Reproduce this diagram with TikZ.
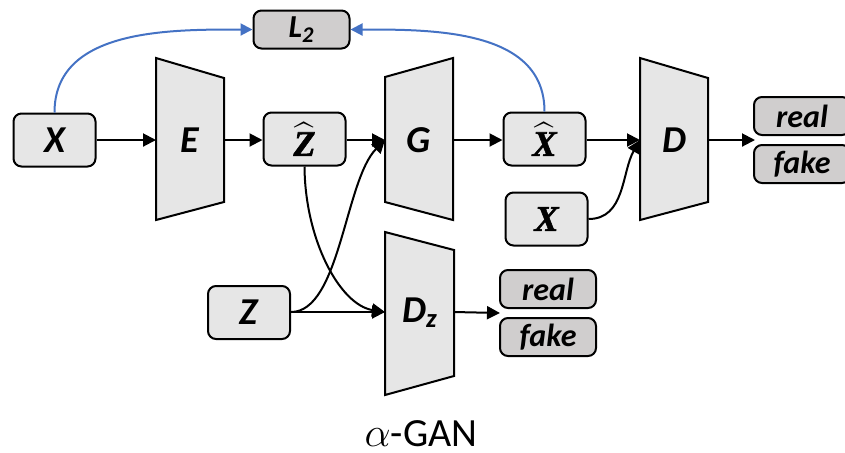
\documentclass[tikz,border=0pt]{standalone}
\usepackage{amsmath}
\usepackage{fontspec}
\setmainfont{Carlito}
\newfontfamily\serifbi{Liberation Serif Bold Italic}[FakeBold=1.5]
\usetikzlibrary{arrows.meta}

\definecolor{boxgray}{HTML}{E6E6E6}
\definecolor{outgray}{HTML}{D0CECE}
\definecolor{lossblue}{HTML}{4472C4}

% hatted symbol in bold serif italic
\newcommand{\hatsym}[1]{$\widehat{\text{#1}}$}

\tikzset{
	box/.style={draw, line width=1pt, rounded corners=4pt, fill=boxgray,
		minimum width=41pt, minimum height=26.5pt, inner sep=0pt,
		font=\fontsize{19}{19}\selectfont\bfseries\itshape},
	mathbox/.style={box, font=\fontsize{18}{18}\selectfont\serifbi\boldmath},
	outbox/.style={draw, line width=1pt, rounded corners=4pt, fill=outgray,
		minimum width=48pt, minimum height=19pt, inner sep=0pt,
		font=\fontsize{16}{16}\selectfont\bfseries\itshape},
	net/.style={draw, line width=1pt, fill=boxgray},
	netlabel/.style={font=\fontsize{19}{19}\selectfont\bfseries\itshape},
	flow/.style={line width=1pt, -{Triangle[length=6.5pt,width=6.5pt]}},
	loss/.style={line width=1pt, lossblue, -{Triangle[length=6pt,width=6pt]}}
}

\begin{document}
\begin{tikzpicture}[x=0.5pt, y=0.5pt]
	\useasboundingbox (0, 0) rectangle (845, -452);

	% networks
	\filldraw[net]	(156, -58) -- (224, -78) -- (224, -202) -- (156, -220) -- cycle;
	\filldraw[net]	(385, -77) -- (453, -58) -- (453, -220) -- (385, -202) -- cycle;
	\filldraw[net]	(640, -58) -- (708, -78) -- (708, -202) -- (640, -220) -- cycle;
	\filldraw[net]	(385, -232) -- (454, -250) -- (454, -376) -- (385, -395) -- cycle;

	\node[netlabel] (E) at (190, -140) {E};
	\node[netlabel] (G) at (419, -140) {G};
	\node[netlabel] (D) at (674, -140) {D};
	\node[netlabel] (Dz) at (420, -313) {D\textsubscript{z}};

	\coordinate (E-in) at (156, -140);
	\coordinate (E-out) at (224, -140);
	\coordinate (G-in) at (385, -140);
	\coordinate (G-out) at (453, -140);
	\coordinate (D-in) at (640, -140);
	\coordinate (D-out) at (708, -140);
	\coordinate (Dz-in) at (385, -312);
	\coordinate (Dz-out) at (454, -312);

	% data boxes
	\node[box] (X) at (54.5, -140) {X};
	\node[mathbox] (Zhat) at (304.5, -139) {\hatsym{Z}};
	\node[mathbox] (Xhat) at (544.5, -139) {\hatsym{X}};
	\node[mathbox] (Xreal) at (546.5, -219) {X};
	\node[box] (Z) at (249, -312.5) {Z};

	% outputs
	\node[outbox] (L2) at (301.5, -29.5) {L\textsubscript{2}};
	\node[outbox] (real) at (802, -116) {real};
	\node[outbox] (fake) at (802, -164) {fake};
	\node[outbox] (realz) at (548, -289) {real};
	\node[outbox] (fakez) at (548, -337) {fake};

	\coordinate (rf) at (755, -140);
	\coordinate (rfz) at (500, -313);

	% connectors
	\draw[flow]	(X) -- (E-in);
	\draw[flow]	(E-out) -- (Zhat.west |- E-out);
	\draw[flow]	(Zhat.east |- G-in) -- (G-in);
	\draw[flow]	(G-out) -- (Xhat.west |- G-out);
	\draw[flow]	(Xhat.east |- D-in) -- (D-in);
	\draw[flow]	(Xreal.east) to[out=0, in=240] (D-in);
	\draw[flow]	(D-out) -- (rf);

	\draw[flow]	(Z.east |- Dz-in) -- (Dz-in);
	\draw[flow]	(Z.east |- Dz-in) .. controls (340, -312) and (345, -180) .. (G-in);
	\draw[flow]	(Zhat.south) .. controls (305, -240) and (340, -305) .. (Dz-in);
	\draw[flow]	(Dz-out) -- (rfz);

	\draw[loss]	(X.north) to[out=90, in=180] (L2.west);
	\draw[loss]	(Xhat.north) to[out=90, in=0] (L2.east);

	\node[font=\fontsize{20}{20}\selectfont, anchor=base, inner sep=0pt] (title) at (421, -446) {$\alpha$-GAN};
\end{tikzpicture}
\end{document}
